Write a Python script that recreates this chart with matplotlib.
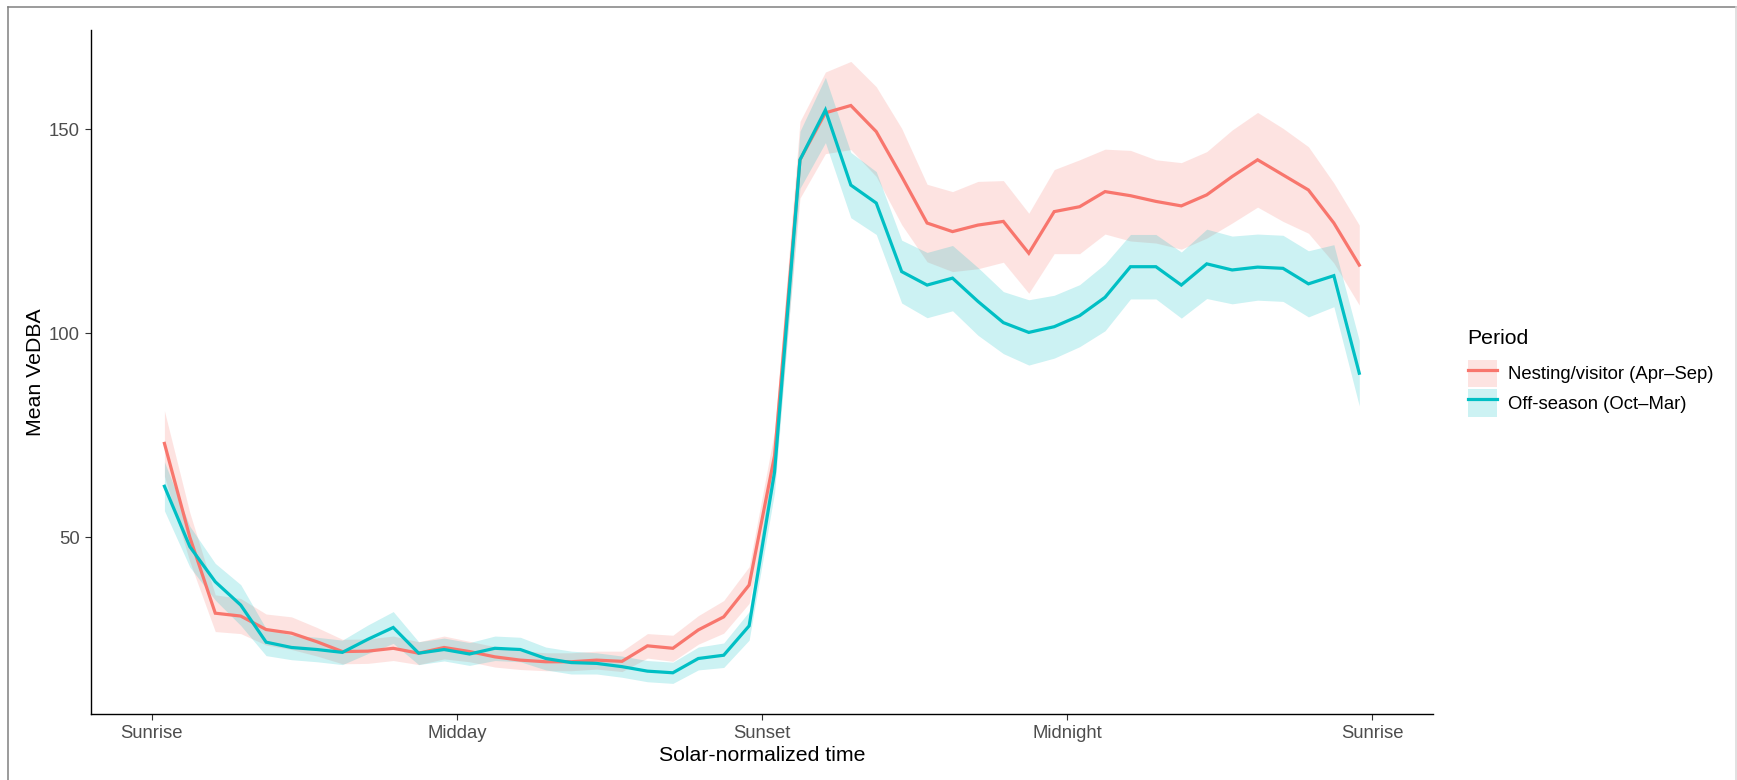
import numpy as np
import matplotlib
matplotlib.use("Agg")
import matplotlib.pyplot as plt
from matplotlib.patches import Patch
from matplotlib.lines import Line2D

# 48 bins across the solar day (Sunrise=0, Midday=1, Sunset=2, Midnight=3, Sunrise=4)
n_bins = 48
time_bins = (np.arange(n_bins) + 0.5) / 12.0

tick_pos = [0, 1, 2, 3, 4]
tick_labels = ["Sunrise", "Midday", "Sunset", "Midnight", "Sunrise"]

nesting_mean = [73.0, 50.0, 31.4, 30.7, 27.4, 26.5, 24.4, 22.0, 22.1, 22.8, 21.6, 23.0,
                22.0, 20.7, 19.9, 19.5, 19.5, 19.9, 19.6, 23.4, 22.8, 27.3, 30.5, 38.3,
                70.0, 142.5, 154.0, 155.8, 149.4, 138.4, 127.0, 124.9, 126.5, 127.4, 119.6, 129.8,
                131.0, 134.7, 133.7, 132.3, 131.2, 133.9, 138.4, 142.5, 138.8, 135.1, 127.0, 116.7]
nesting_ci = [8.0, 6.0, 4.5, 4.3, 3.8, 4.0, 3.5, 3.0, 3.0, 3.0, 2.8, 2.8,
              2.5, 2.5, 2.3, 2.2, 2.2, 2.2, 2.5, 3.0, 3.2, 3.5, 4.0, 4.5,
              6.0, 9.4, 10.0, 10.8, 11.0, 11.8, 9.5, 9.8, 10.7, 10.0, 9.8, 10.3,
              11.5, 10.4, 11.1, 10.2, 10.6, 10.6, 11.4, 11.6, 11.4, 10.6, 9.8, 9.8]

offseason_mean = [62.5, 47.7, 39.1, 33.4, 24.3, 23.0, 22.5, 21.8, 25.0, 27.9, 21.6, 22.5,
                  21.4, 22.8, 22.5, 20.3, 19.3, 19.1, 18.3, 17.2, 16.8, 20.3, 21.1, 28.3,
                  66.0, 142.5, 154.7, 136.3, 131.9, 115.1, 111.8, 113.5, 107.8, 102.6, 100.2, 101.6,
                  104.3, 108.8, 116.3, 116.3, 111.8, 117.0, 115.5, 116.2, 115.9, 112.1, 114.1, 90.2]
offseason_ci = [6.0, 5.0, 4.5, 5.0, 3.3, 3.0, 3.0, 3.0, 3.5, 3.9, 2.8, 2.8,
                2.8, 3.0, 3.0, 2.8, 2.8, 2.6, 2.6, 2.6, 2.6, 2.8, 3.0, 3.5,
                5.0, 7.0, 8.0, 8.0, 7.7, 7.7, 8.0, 8.0, 8.3, 7.6, 8.0, 7.7,
                7.6, 8.2, 7.9, 7.9, 8.1, 8.5, 8.3, 8.1, 8.1, 8.1, 7.6, 8.0]

series = [
    ("Nesting/visitor (Apr\u2013Sep)", nesting_mean, nesting_ci, "#F8766D"),
    ("Off-season (Oct\u2013Mar)", offseason_mean, offseason_ci, "#00BFC4"),
]

plt.rcParams["font.family"] = ["Liberation Sans", "DejaVu Sans"]

W, H = 1737, 780
fig = plt.figure(figsize=(W / 100, H / 100), dpi=100)
ax = fig.add_axes([90.7 / W, 1 - 714 / H, (1433 - 90.7) / W, (714 - 30) / H])

# ribbons first, then lines on top
for name, mean, ci, col in series:
    m = np.array(mean)
    c = np.array(ci)
    ax.fill_between(time_bins, m - c, m + c, color=col, alpha=0.2, linewidth=0)
for name, mean, ci, col in series:
    ax.plot(time_bins, mean, color=col, lw=2.3, solid_joinstyle="miter")

ax.set_xlim(-0.2, 4.2)
ax.set_ylim(6.7, 174.3)
ax.set_xticks(tick_pos)
ax.set_xticklabels(tick_labels)
ax.set_yticks([50, 100, 150])

for s in ["top", "right"]:
    ax.spines[s].set_visible(False)
for s in ["left", "bottom"]:
    ax.spines[s].set_linewidth(1.0)
    ax.spines[s].set_color("black")
ax.tick_params(length=4.3, width=0.8, color="#333333", labelcolor="#4D4D4D",
               labelsize=13.3, pad=3.6)

ax.set_xlabel("Solar-normalized time", fontsize=15.3, labelpad=3.2)
ax.set_ylabel("Mean VeDBA", fontsize=15.3, labelpad=3)

# legend (title placed separately to get the ggplot spacing)
handles = [(Patch(facecolor=col, alpha=0.2, linewidth=0), Line2D([], [], color=col, lw=2.3))
           for name, mean, ci, col in series]
labels = [name for name, mean, ci, col in series]
fig.legend(handles, labels, loc="upper left",
           bbox_to_anchor=(1467.7 / W, 1 - 360 / H), frameon=False,
           fontsize=13.3, borderpad=0, borderaxespad=0,
           handlelength=1.58, handleheight=1.88, handletextpad=0.61,
           labelspacing=0.125)
fig.text(1467.7 / W, 1 - 338 / H, "Period", fontsize=15.3, va="center", ha="left")

# thin grey frame like the exported image
fig.add_artist(Line2D([7.5 / W, 7.5 / W], [0, 1 - 7 / H], transform=fig.transFigure,
                      color="#808080", lw=1.1))
fig.add_artist(Line2D([7.5 / W, 1735.5 / W], [1 - 7 / H, 1 - 7 / H], transform=fig.transFigure,
                      color="#808080", lw=1.1))
fig.add_artist(Line2D([1735.5 / W, 1735.5 / W], [0, 1 - 7 / H], transform=fig.transFigure,
                      color="#d8d8d8", lw=1.1))

fig.savefig("out.png", dpi=100)
